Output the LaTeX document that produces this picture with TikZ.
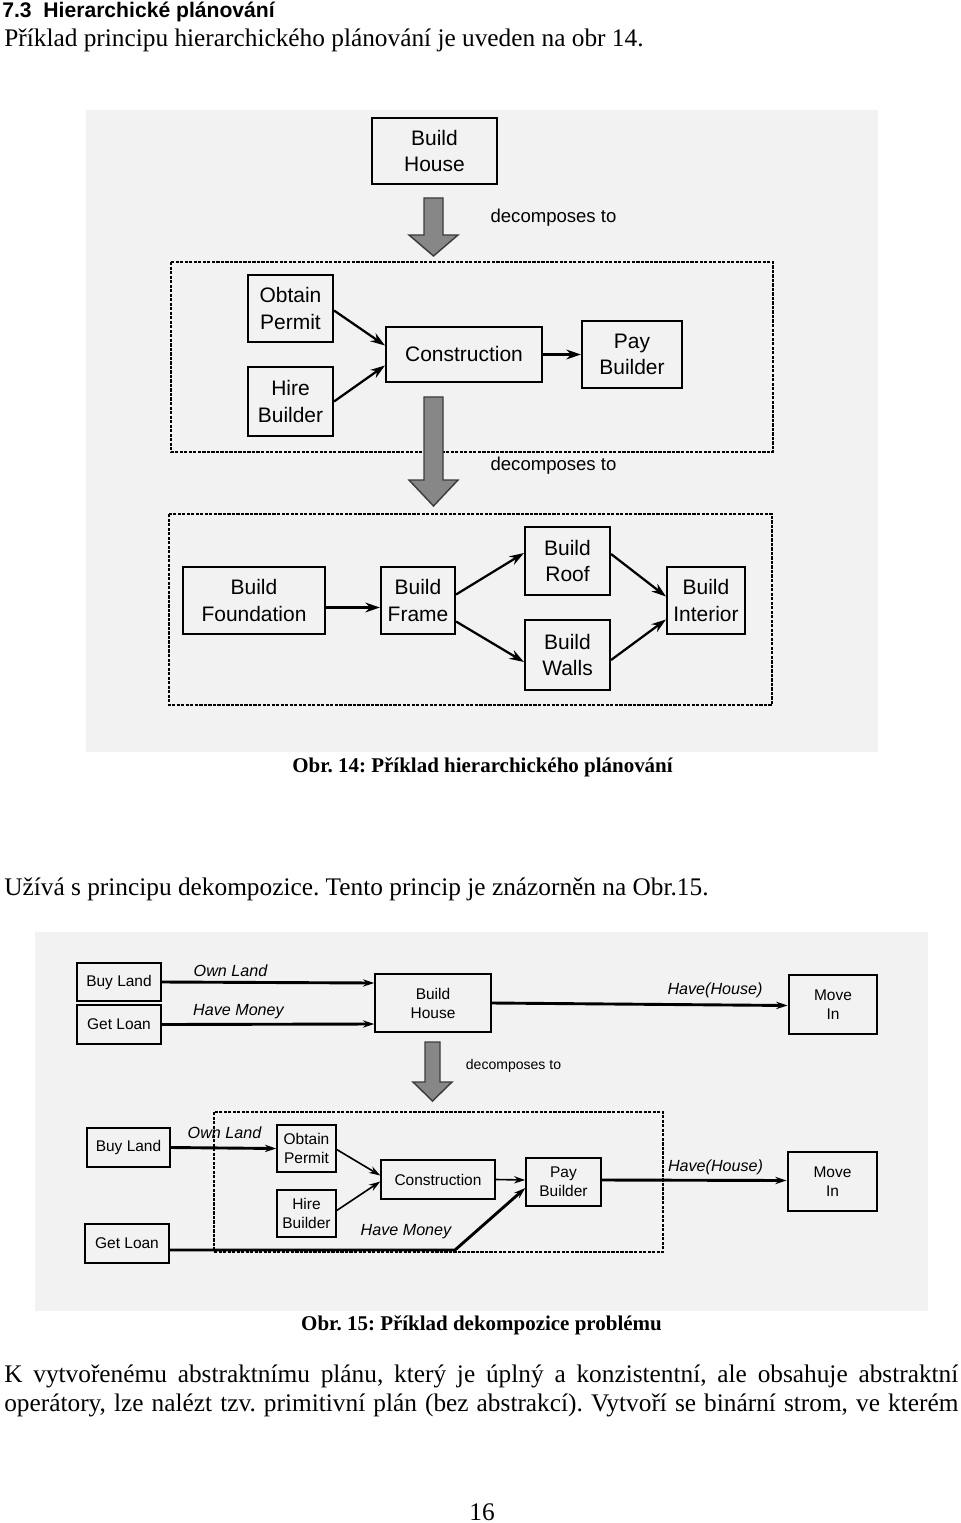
\documentclass[tikz,border=0pt]{standalone}
\usepackage{fontspec}
\setmainfont{Liberation Serif}
\setsansfont{Liberation Sans}
\usepackage{xcolor}
\usepackage{tikz}
\usetikzlibrary{arrows.meta, positioning}
\frenchspacing
\definecolor{figback}{RGB}{242, 242, 242}
\definecolor{bigfill}{RGB}{135, 135, 135}
\definecolor{bigborder}{RGB}{60, 60, 60}
\newcommand{\pu}{0.62pt}
\newcommand{\bodyfont}{\fontsize{15.7}{18}\selectfont}
\tikzstyle{task} = [rectangle, draw=black, line width=1.3pt, fill=figback, align=center,
                    inner sep=0pt, font=\sffamily\fontsize{13}{16.5}\selectfont]
\tikzstyle{smalltask} = [rectangle, draw=black, line width=0.9pt, fill=figback, align=center,
                    inner sep=0pt, font=\sffamily\fontsize{9.6}{11.8}\selectfont]
\tikzstyle{arrow} = [-{Stealth[length=9pt, width=6pt]}, line width=1.4pt]
\tikzstyle{thinarrow} = [-{Stealth[length=7pt, width=4.5pt]}, line width=1pt]
\tikzstyle{fatarrow} = [-{Stealth[length=7pt, width=4.5pt]}, line width=1.8pt]
\tikzstyle{cond} = [font=\sffamily\itshape\fontsize{10}{12}\selectfont, inner sep=0pt]
\tikzstyle{subplan} = [draw=black, line width=1.3pt, dash pattern=on 2pt off 0.8pt]
\tikzstyle{bigarrow} = [fill=bigfill, draw=bigborder, line width=0.9pt, line join=miter]

\begin{document}
\begin{tikzpicture}[x=0.62pt, y=-0.62pt]
    \useasboundingbox (0,0) rectangle (960,1523);
    \fill[white] (0,0) rectangle (960,1523);

    % text of the page
    \node[anchor=west, inner sep=0pt, font=\sffamily\bfseries\fontsize{13.1}{15}\selectfont] (head) at (2,12)
        {7.3\ \ Hierarchické plánování};
    \node[anchor=west, inner sep=0pt, font=\bodyfont] (intro) at (4,40)
        {Příklad principu hierarchického plánování je uveden na obr 14.};

    % Obr. 14
    \fill[figback] (86,110) rectangle (878,752);
    \node[task, minimum width=125*\pu, minimum height=66*\pu] (house) at (434.5,151) {Build\\House};
    \draw[bigarrow] (424,198) -- (443,198) -- (443,235) -- (458,235) -- (433.5,256)
        -- (409,235) -- (424,235) -- cycle;
    \node[font=\sffamily\fontsize{11.5}{13}\selectfont, inner sep=0pt] (dec1) at (553.5,218) {decomposes to};

    \draw[subplan] (171,262) rectangle (773,452);
    \node[task, minimum width=85*\pu, minimum height=67*\pu] (permit) at (290.5,308.5) {Obtain\\Permit};
    \node[task, minimum width=85*\pu, minimum height=69*\pu] (hire) at (290.5,401.5) {Hire\\Builder};
    \node[task, minimum width=156*\pu, minimum height=55*\pu] (constr) at (464,354.5) {Construction};
    \node[task, minimum width=100*\pu, minimum height=67*\pu] (pay) at (632,354.5) {Pay\\Builder};
    \draw[arrow] ([yshift=-2*\pu]permit.east) -- ([yshift=9*\pu]constr.west);
    \draw[arrow] (hire.east) -- ([yshift=-11*\pu]constr.west);
    \draw[arrow] (constr.east) -- (pay.west);

    \draw[bigarrow] (424,397) -- (443,397) -- (443,480) -- (458,480) -- (433.5,506)
        -- (409,480) -- (424,480) -- cycle;
    \node[font=\sffamily\fontsize{11.5}{13}\selectfont, inner sep=0pt] (dec2) at (553.5,466) {decomposes to};

    \draw[subplan] (169,514) rectangle (772,705);
    \node[task, minimum width=142*\pu, minimum height=67*\pu] (found) at (254,600.5) {Build\\Foundation};
    \node[task, minimum width=74*\pu, minimum height=67*\pu] (frame) at (418,600.5) {Build\\Frame};
    \node[task, minimum width=85*\pu, minimum height=68*\pu] (roof) at (567.5,561) {Build\\Roof};
    \node[task, minimum width=85*\pu, minimum height=70*\pu] (walls) at (567.5,655) {Build\\Walls};
    \node[task, minimum width=78*\pu, minimum height=67*\pu] (inter) at (706,600.5) {Build\\Interior};
    \draw[arrow] ([yshift=-7*\pu]found.east) -- ([yshift=-7*\pu]frame.west);
    \draw[arrow] ([yshift=6*\pu]frame.east) -- ([yshift=8*\pu]roof.west);
    \draw[arrow] ([yshift=-21*\pu]frame.east) -- ([yshift=-7*\pu]walls.west);
    \draw[arrow] ([yshift=7*\pu]roof.east) -- ([yshift=4*\pu]inter.west);
    \draw[arrow] ([yshift=-5*\pu]walls.east) -- ([yshift=-19*\pu]inter.west);

    \node[font=\bfseries\fontsize{13}{15}\selectfont, inner sep=0pt] (cap1) at (482.5,767)
        {Obr. 14: Příklad hierarchického plánování};

    \node[anchor=west, inner sep=0pt, font=\bodyfont] (uses) at (4,889)
        {Užívá s principu dekompozice. Tento princip je znázorněn na Obr.15.};

    % Obr. 15
    \fill[figback] (35,932) rectangle (928,1311);
    \node[smalltask, minimum width=84*\pu, minimum height=38*\pu] (land) at (119,982) {Buy Land};
    \node[smalltask, minimum width=84*\pu, minimum height=39*\pu] (loan) at (119,1024.5) {Get Loan};
    \node[smalltask, minimum width=116*\pu, minimum height=58*\pu] (build) at (433,1003) {Build\\House};
    \node[smalltask, line width=1.8pt, minimum width=88*\pu, minimum height=59*\pu] (move) at (833,1004.5) {Move\\In};
    \draw[fatarrow] (land.east) -- ([yshift=20*\pu]build.west);
    \draw[fatarrow] (loan.east) -- ([yshift=-21*\pu]build.west);
    \draw[fatarrow] (build.east) -- ([yshift=-1*\pu]move.west);
    \node[cond] (own) at (230.5,971) {Own Land};
    \node[cond] (money) at (238.5,1012) {Have Money};
    \node[cond] (have) at (715,990) {Have(House)};

    \draw[bigarrow] (425,1042) -- (440,1042) -- (440,1082) -- (452,1082) -- (432.5,1101)
        -- (413,1082) -- (425,1082) -- cycle;
    \node[font=\sffamily\fontsize{8.7}{10}\selectfont, inner sep=0pt] (dec3) at (513.5,1066) {decomposes to};

    \draw[subplan, line width=0.9pt] (214,1112) rectangle (663,1252);
    \node[smalltask, minimum width=83*\pu, minimum height=39*\pu] (land2) at (128.5,1147.5) {Buy Land};
    \node[smalltask, minimum width=84*\pu, minimum height=39*\pu] (loan2) at (127,1243.5) {Get Loan};
    \node[smalltask, minimum width=59*\pu, minimum height=47*\pu] (permit2) at (306.5,1148.5) {Obtain\\Permit};
    \node[smalltask, minimum width=59*\pu, minimum height=47*\pu] (hire2) at (306.5,1213.5) {Hire\\Builder};
    \node[smalltask, minimum width=114*\pu, minimum height=39*\pu] (constr2) at (438,1179.5) {Construction};
    \node[smalltask, minimum width=75*\pu, minimum height=48*\pu] (pay2) at (563.5,1182) {Pay\\Builder};
    \node[smalltask, line width=1.8pt, minimum width=89*\pu, minimum height=59*\pu] (move2) at (832.5,1181.5) {Move\\In};
    \coordinate (bend) at (455,1250);
    \draw[fatarrow] (land2.east) -- (permit2.west);
    \draw[thinarrow] ([yshift=-1*\pu]permit2.east) -- ([yshift=4*\pu]constr2.west);
    \draw[thinarrow] ([yshift=3*\pu]hire2.east) -- ([yshift=-2*\pu]constr2.west);
    \draw[thinarrow] (constr2.east) -- ([yshift=2*\pu]pay2.west);
    \draw[fatarrow] ([yshift=-6.5*\pu]loan2.east) -- (bend) -- ([yshift=-6*\pu]pay2.west);
    \draw[fatarrow] ([yshift=2*\pu]pay2.east) -- ([yshift=1*\pu]move2.west);
    \node[cond] (own2) at (224.5,1133) {Own Land};
    \node[cond] (money2) at (406,1232) {Have Money};
    \node[cond] (have2) at (715.5,1167) {Have(House)};

    \node[font=\bfseries\fontsize{13}{15}\selectfont, inner sep=0pt] (cap2) at (481.5,1325)
        {Obr. 15: Příklad dekompozice problému};

    \node[anchor=west, inner sep=0pt, font=\bodyfont] (par1) at (4,1376)
        {\makebox[\dimexpr\pu*954\relax][s]{K vytvořenému abstraktnímu plánu, který je úplný a konzistentní, ale obsahuje abstraktní}};
    \node[anchor=west, inner sep=0pt, font=\bodyfont] (par2) at (4,1405)
        {\makebox[\dimexpr\pu*954\relax][s]{operátory, lze nalézt tzv. primitivní plán (bez abstrakcí). Vytvoří se binární strom, ve kterém}};
    \node[font=\bodyfont, inner sep=0pt] (page) at (482,1512) {16};
\end{tikzpicture}
\end{document}
